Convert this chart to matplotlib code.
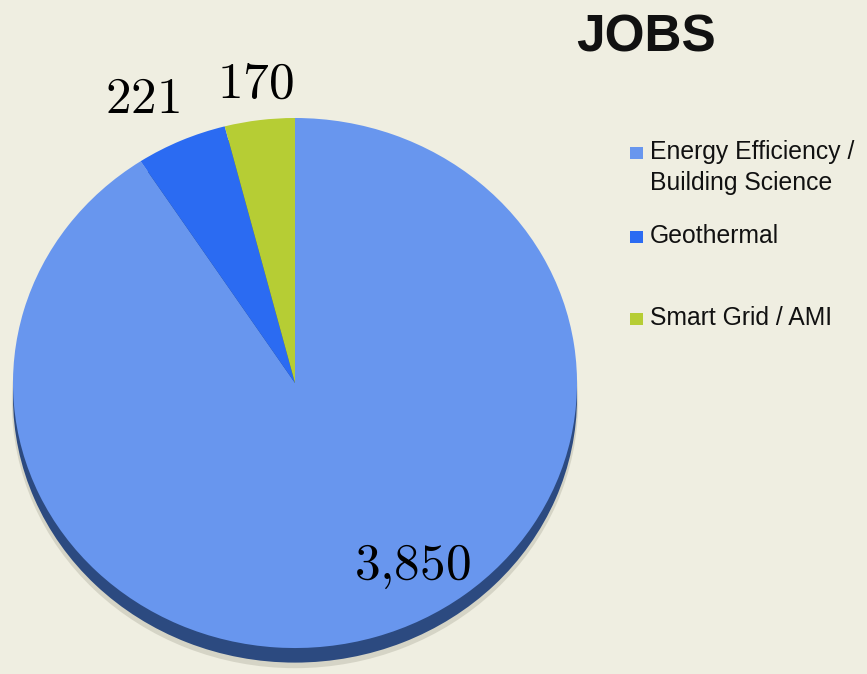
import matplotlib.pyplot as plt
from matplotlib.patches import Rectangle

# data
categories = ["Energy Efficiency /\nBuilding Science", "Geothermal", "Smart Grid / AMI"]
jobs = [3850, 221, 170]
value_labels = ["3{,}850", "221", "170"]
colors = ["#6896ee", "#2b6bf2", "#b6cd34"]

plt.rcParams['mathtext.fontset'] = 'cm'
bg = "#efeee1"

fig = plt.figure(figsize=(8.67, 6.74), dpi=100)
fig.patch.set_facecolor(bg)

# pie axes (slightly squashed ellipse, like the reference)
ax = fig.add_axes([13 / 867, 0, 564 / 867, 556 / 674])
ax.set_facecolor(bg)

# soft drop shadow + dark rim underneath
ax.pie([sum(jobs)], colors=["#c4c3b4"], radius=1.004, center=(0, -0.072),
       wedgeprops=dict(linewidth=0, alpha=0.6))
ax.pie([sum(jobs)], colors=["#2c4a80"], radius=1.0, center=(0, -0.055),
       wedgeprops=dict(linewidth=0))
wedges, _ = ax.pie(jobs, colors=colors, startangle=90, counterclock=False,
                   radius=1.0, wedgeprops=dict(linewidth=0))

ax.set_aspect('auto')
ax.set_xlim(-1, 1)
ax.set_ylim(-1.098, 1)
ax.axis('off')

# value labels
label_pos = [(0.415, -0.69), (-0.54, 1.07), (-0.14, 1.13)]
for (x, y), txt in zip(label_pos, value_labels):
    ax.text(x, y, r"$\mathrm{" + txt + "}$", fontsize=37, ha='center', va='center',
            color='black')

# title
fig.text(646 / 867, 1 - 52 / 674, "JOBS", fontsize=37, fontweight='bold',
         family='Liberation Sans', ha='center', va='baseline', color='#111111')

# legend (manual, to keep the uneven spacing)
baselines = [159, 243, 325]
for name, col, yb in zip(categories, colors, baselines):
    fig.patches.append(Rectangle((630 / 867, 1 - yb / 674), 13 / 867, 12 / 674,
                                 transform=fig.transFigure, facecolor=col,
                                 edgecolor='none'))
    lines = name.split("\n")
    for i, line in enumerate(lines):
        fig.text(650 / 867, 1 - (yb + 31 * i) / 674, line, fontsize=17.8,
                 family='Liberation Sans', ha='left', va='baseline', color='#111111')

fig.savefig("out.png", dpi=100, facecolor=bg)
